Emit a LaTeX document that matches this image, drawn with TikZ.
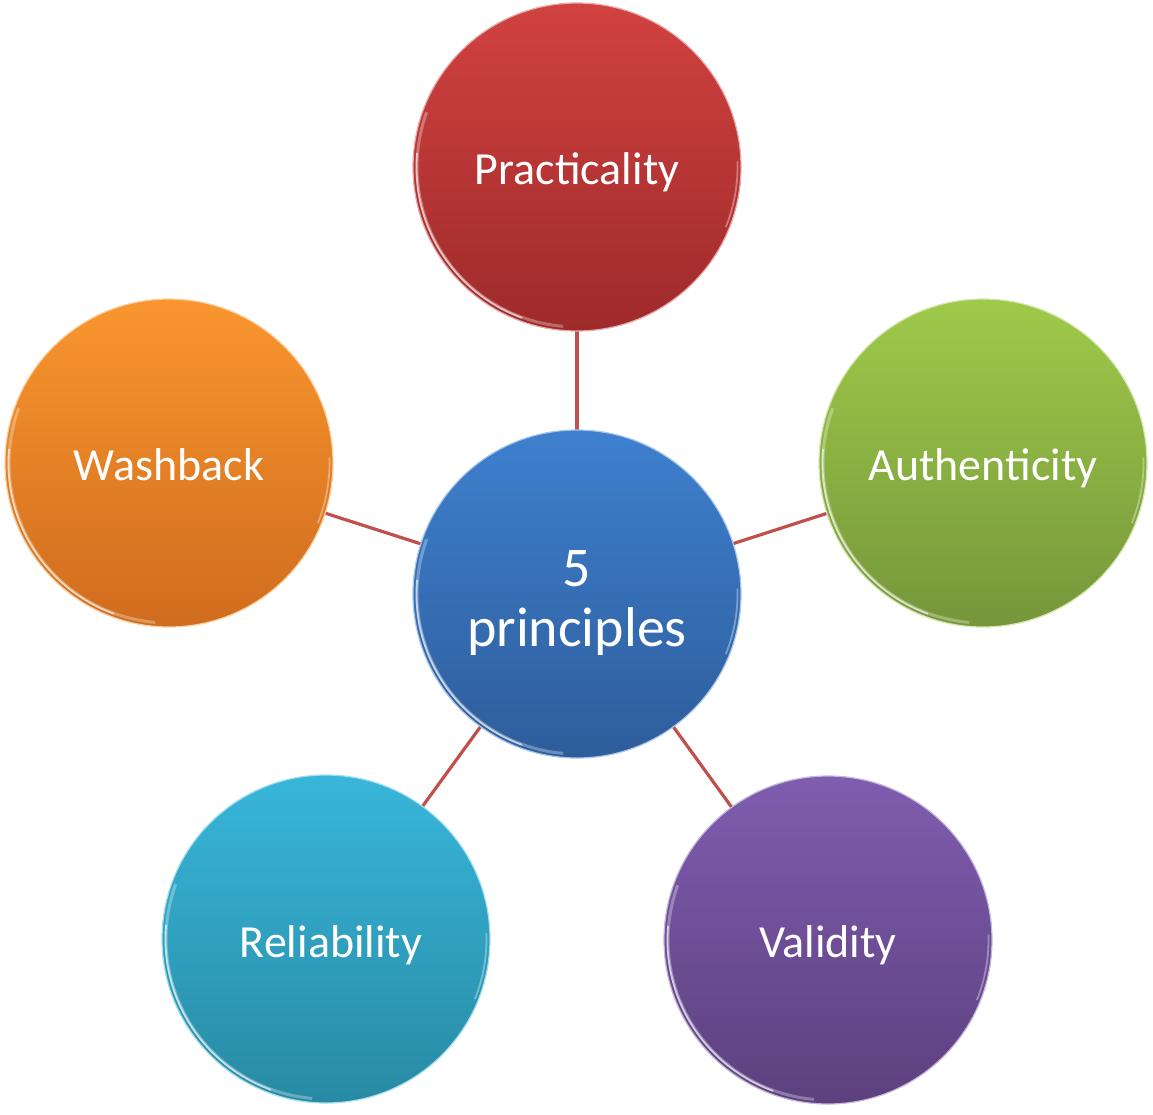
\documentclass[tikz,border=0pt]{standalone}
\usepackage{fontspec}
\setmainfont{Carlito}
\definecolor{linkc}{RGB}{192,80,77}
\definecolor{redT}{RGB}{209,66,64}\definecolor{redB}{RGB}{158,42,42}
\definecolor{grnT}{RGB}{158,202,74}\definecolor{grnB}{RGB}{118,150,58}
\definecolor{orgT}{RGB}{249,150,46}\definecolor{orgB}{RGB}{208,108,30}
\definecolor{cynT}{RGB}{56,182,218}\definecolor{cynB}{RGB}{40,138,163}
\definecolor{purT}{RGB}{127,93,175}\definecolor{purB}{RGB}{92,64,126}
\definecolor{bluT}{RGB}{62,128,207}\definecolor{bluB}{RGB}{46,93,155}
\newcommand{\gloss}[1]{%
  \draw[white, opacity=0.3, line width=3pt] (#1) ++(95:160) arc[start angle=95, end angle=200, radius=160];
  \draw[white, opacity=0.6, line width=1.8pt] (#1) ++(110:160.5) arc[start angle=110, end angle=185, radius=160.5];
  \draw[white, opacity=0.35, line width=1.8pt] (#1) ++(-2:160.5) arc[start angle=-2, end angle=22, radius=160.5];
}
\begin{document}
\begin{tikzpicture}[x=1pt,y=-1pt,
  bub/.style n args={2}{circle, minimum size=328pt, inner sep=0pt, top color=#1, bottom color=#2, draw=#1!45!white, line width=1.2pt},
  lbl/.style={text=white, font=\fontsize{46}{50}\selectfont, align=center, inner sep=0pt},
  link/.style={draw=linkc, line width=3.2pt}]
\useasboundingbox (0,0) rectangle (1153,1114);
\coordinate (cc) at (577,594);
\coordinate (cp) at (577,167);
\coordinate (ca) at (983,463);
\coordinate (cw) at (169,463);
\coordinate (cr) at (326,939);
\coordinate (cv) at (828,940);
\draw[link] (cc) -- (cp);
\draw[link] (cc) -- (ca);
\draw[link] (cc) -- (cw);
\draw[link] (cc) -- (cr);
\draw[link] (cc) -- (cv);
\node[bub={redT}{redB}] (p) at (cp) {};
\node[bub={grnT}{grnB}] (a) at (ca) {};
\node[bub={orgT}{orgB}] (w) at (cw) {};
\node[bub={cynT}{cynB}] (r) at (cr) {};
\node[bub={purT}{purB}] (v) at (cv) {};
\node[bub={bluT}{bluB}] (c) at (cc) {};
\gloss{cp}\gloss{ca}\gloss{cw}\gloss{cr}\gloss{cv}\gloss{cc}
\node[lbl] (tp) at ([yshift=-5pt]p.center) {Practicality};
\node[lbl] (ta) at ([yshift=-5pt]a.center) {Authenticity};
\node[lbl] (tw) at ([yshift=-2pt]w.center) {Washback};
\node[lbl] (tr) at ([xshift=5pt,yshift=-6pt]r.center) {Reliability};
\node[lbl] (tv) at ([yshift=-5pt]v.center) {Validity};
\node[lbl, font=\fontsize{56}{60}\selectfont] (tc) at ([yshift=-9pt]c.center) {5\\principles};
\end{tikzpicture}
\end{document}
